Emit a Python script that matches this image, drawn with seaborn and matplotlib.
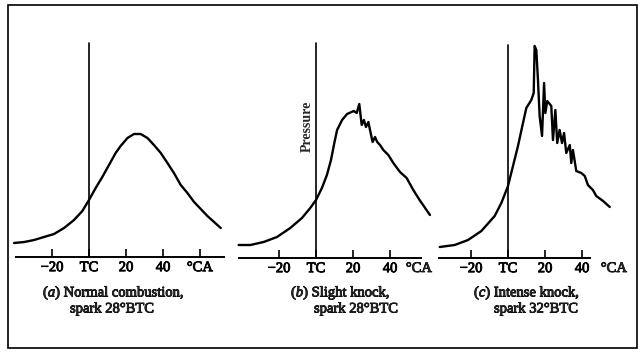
import matplotlib
matplotlib.use("Agg")
import matplotlib.pyplot as plt
import matplotlib.patheffects as pe
import seaborn as sns
import pandas as pd
from matplotlib.patches import Rectangle

# ---- data (crank angle in degrees, pressure in arbitrary units) ----
angle_a = [-40.5, -35, -29.7, -24.3, -18.9, -13.5, -8.1, -3.6, 0, 3.6, 7.2, 10.8,
           14.4, 17.1, 20.8, 24.3, 27.9, 31.6, 35.1, 38.8, 42.4, 45.9, 49.6, 53.2,
           56.8, 60.4, 64, 67.6, 71.2]
press_a = [14, 15, 17, 20, 23, 29, 37, 46, 57, 69, 80, 92,
           104, 111, 119, 123, 123, 119, 112, 104, 94, 84, 72, 64,
           55, 48, 41, 35, 29]

angle_b = [-41.8, -35.5, -28.3, -21.1, -13.9, -7.6, -3.1, 0, 3.2, 5.9, 8.1, 9.9,
           11.4, 14.1, 16.8, 20.4, 22, 23.4, 24.2, 24.7, 25.9, 27, 28.3, 29.2,
           30.6, 31.9, 33.1, 34.6, 36.4, 39.1, 41.8, 45.4, 49, 52.6, 56, 61.6]
press_b = [13, 13, 16, 21, 30, 40, 50, 58, 70, 83, 98, 115,
           128, 138, 144, 147, 145, 154, 141, 133, 138, 131, 136, 128,
           116, 121, 116, 113, 108, 103, 95, 86, 80, 68, 58, 43]

angle_c = [-36.9, -28.8, -21.6, -14.4, -7.2, -3.6, 0, 2.7, 5.4, 8.1, 9.9, 12.6,
           13.9, 14.4, 15.3, 16.2, 17.1, 18.4, 19.5, 20.2, 21.2, 23.4, 24.3, 25.6,
           26.6, 27.9, 29.2, 30.3, 31.5, 33.4, 34.2, 35.1, 36.9, 39.6, 41.5, 43.2,
           45.9, 47.7, 51.4, 55]
press_c = [11, 13, 18, 27, 42, 55, 72, 92, 112, 135, 150, 158,
           165, 212, 208, 178, 142, 122, 175, 145, 157, 152, 118, 148,
           115, 128, 115, 125, 105, 113, 95, 108, 87, 85, 82, 73,
           68, 62, 57, 51]

tick_vals = [-20, 0, 20, 40]
tick_text = ["\u221220", "TC", "20", "40"]
unit_label = "\u00b0CA"
captions = [("($a$) Normal combustion,", "spark 28\u00b0BTC"),
            ("($b$) Slight knock,", "spark 28\u00b0BTC"),
            ("($c$) Intense knock,", "spark 32\u00b0BTC")]
ylabel_text = "Pressure"

# ---- style ----
sns.set_style("white")
plt.rcParams["font.family"] = ["Liberation Serif", "DejaVu Serif"]
plt.rcParams["mathtext.fontset"] = "custom"
plt.rcParams["mathtext.rm"] = "Liberation Serif"
plt.rcParams["mathtext.it"] = "Liberation Serif:italic"

W, H = 640, 355
fig = plt.figure(figsize=(6.4, 3.55), dpi=100)
fig.patch.set_facecolor("white")
thick = [pe.withStroke(linewidth=0.6, foreground="black")]

S = 1.85  # px per degree

def px_axes(tc_px, base_px, xlim, ytop):
    left = tc_px + xlim[0] * S
    width = (xlim[1] - xlim[0]) * S
    return fig.add_axes([left / W, (H - base_px) / H, width / W, ytop / H])

panels = [
    dict(x=angle_a, y=press_a, tc=89, base=257, xlim=(-42, 75), vtop=214,
         spine=(-39.7, 72.8), ticks=tick_vals + [60], labels=tick_text + [unit_label],
         unit=None, cap=captions[0], cap_x=(43, 70)),
    dict(x=angle_b, y=press_b, tc=316, base=258, xlim=(-43, 64), vtop=215,
         spine=(-41.6, 56.5), ticks=tick_vals, labels=tick_text,
         unit=55.7, cap=captions[1], cap_x=(291, 314)),
    dict(x=angle_c, y=press_c, tc=508, base=258, xlim=(-39, 60), vtop=213,
         spine=(-37.3, 44.3), ticks=tick_vals, labels=tick_text,
         unit=57.3, cap=captions[2], cap_x=(474, 494)),
]

FS = 10.5
for i, p in enumerate(panels):
    ax = px_axes(p["tc"], p["base"], p["xlim"], 215)
    ax.set_facecolor("none")
    df = pd.DataFrame({"angle": p["x"], "pressure": p["y"]})
    sns.lineplot(data=df, x="angle", y="pressure", ax=ax, color="black",
                 linewidth=1.7, sort=False, estimator=None)
    ax.set_xlim(*p["xlim"])
    ax.set_ylim(0, 215)
    ax.plot([0, 0], [0, p["vtop"]], color="black", linewidth=1.2, clip_on=False)
    for s in ["top", "right", "left"]:
        ax.spines[s].set_visible(False)
    ax.spines["bottom"].set_bounds(*p["spine"])
    ax.spines["bottom"].set_linewidth(1.4)
    ax.spines["bottom"].set_color("black")
    ax.set_yticks([])
    ax.set_xticks(p["ticks"])
    ax.set_xticklabels(p["labels"], fontsize=FS)
    for lbl in ax.get_xticklabels():
        lbl.set_path_effects(thick)
    ax.tick_params(axis="x", direction="in", length=6, width=1.2, pad=3,
                   colors="black", bottom=True)
    ax.set_xlabel("")
    ax.set_ylabel("")
    if p["unit"] is not None:
        ax.text(p["unit"], -4, unit_label, fontsize=FS, ha="center", va="top",
                path_effects=thick)
    # captions
    fig.text(p["cap_x"][0] / W, 1 - 293 / H, p["cap"][0], fontsize=FS,
             ha="left", va="center", path_effects=thick)
    fig.text(p["cap_x"][1] / W, 1 - 309 / H, p["cap"][1], fontsize=FS,
             ha="left", va="center", path_effects=thick)
    if i == 1:
        fig.text(307.5 / W, 1 - 126 / H, ylabel_text, rotation=90, fontsize=10,
                 fontweight="bold", ha="center", va="center")

fig.add_artist(Rectangle((8 / W, 1 - 348 / H), (637 - 8) / W, (348 - 5) / H,
                         transform=fig.transFigure, fill=False,
                         edgecolor="black", linewidth=1.2))

fig.savefig("out.png", dpi=100, facecolor="white")
